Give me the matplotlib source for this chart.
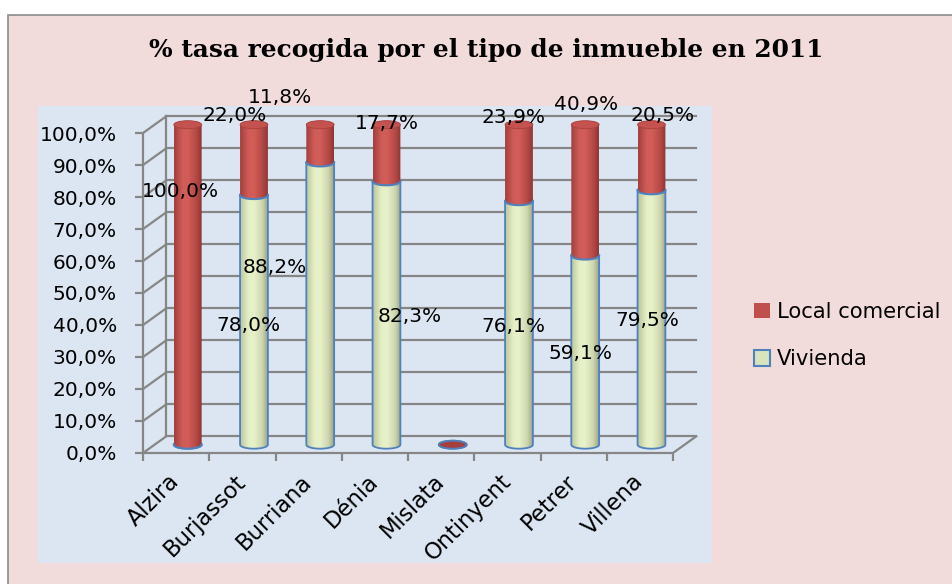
"""
Stacked 3D-style cylinder chart: % tasa recogida por tipo de inmueble (2011).
"""

import numpy as np
import matplotlib
matplotlib.use('Agg')
import matplotlib.pyplot as plt
from matplotlib.patches import Rectangle, PathPatch, Ellipse, Patch
from matplotlib.path import Path
from matplotlib.colors import LinearSegmentedColormap

# ── data ─────────────────────────────────────────────────────────────────────
cities   = ['Alzira', 'Burjassot', 'Burriana', 'Dénia', 'Mislata',
            'Ontinyent', 'Petrer', 'Villena']
vivienda = [0.0, 78.0, 88.2, 82.3, 0.0, 76.1, 59.1, 79.5]
local    = [100.0, 22.0, 11.8, 17.7, 0.0, 23.9, 40.9, 20.5]
y_ticks  = list(range(0, 101, 10))

# data labels were dragged by hand in the original -> anchor (category units, %)
viv_lbl_x = [None, 1.085, 1.49, 3.53, None, 5.085, 6.10, 7.11]
viv_lbl_y = [None, 39.7, 58.1, 42.5, None, 39.4, 31.0, 41.3]
loc_lbl_x = [0.06, 0.89, 1.57, 3.18, None, 5.085, 6.19, 7.35]
loc_lbl_y = [81.6, 105.6, 111.0, 103.0, None, 104.7, 109.0, 105.6]

def pct(v):
    return f"{v:.1f}".replace('.', ',') + '%'

# ── style ────────────────────────────────────────────────────────────────────
PINK  = '#f2dcdb'
BLUEBG = '#dce6f2'
GRID  = '#868686'
RED   = '#c0504d'
EDGE  = '#4f81bd'
GREEN = '#d7e4bd'
FS    = 14.5

DX, DY = 0.35, 5.2          # depth of the 3D box in data units
RX, RY = 0.21, 1.25         # cylinder half width / ellipse half height

red_cm = LinearSegmentedColormap.from_list('red', [
    (0.0, '#a23f3c'), (0.3, '#cf5c58'), (0.5, '#d35d59'),
    (0.8, '#b54946'), (1.0, '#8e3532')])
green_cm = LinearSegmentedColormap.from_list('green', [
    (0.0, '#bcc69e'), (0.3, '#e4efc5'), (0.5, '#e8f2ca'),
    (0.8, '#cdd6ae'), (1.0, '#9da587')])

plt.rcParams['font.family'] = 'DejaVu Sans'

fig = plt.figure(figsize=(9.52, 5.84), dpi=100, facecolor='white')

# chart area + plot area backgrounds
fig.patches.append(Rectangle((8/952, -0.1), 1.2, 1.0743, transform=fig.transFigure,
                             fc=PINK, ec='#8c8c8c', lw=1.2, zorder=-2))
fig.patches.append(Rectangle((38/952, 21/584), 674/952, 457/584,
                             transform=fig.transFigure, fc=BLUEBG, ec='none', zorder=-1))

ax = fig.add_axes([143/952, 131/584, 556.5/952, 339.2/584])
ax.patch.set_visible(False)

# ── back wall / floor ────────────────────────────────────────────────────────
for y in y_ticks:
    ax.plot([-0.5 + DX, 7.5 + DX], [y + DY, y + DY], color=GRID, lw=1.6, zorder=1)
    ax.plot([-0.5, -0.5 + DX], [y, y + DY], color=GRID, lw=1.6, zorder=1)
ax.plot([-0.5 + DX, -0.5 + DX], [DY, 100 + DY], color=GRID, lw=1.6, zorder=1)
ax.plot([7.5, 7.5 + DX], [0, DY], color=GRID, lw=1.6, zorder=1)

# ── cylinders ────────────────────────────────────────────────────────────────
grad = np.linspace(0, 1, 120).reshape(1, -1)

def body_path(xc, y0, y1):
    t1 = np.linspace(np.pi, 2*np.pi, 40)
    t2 = np.linspace(0, np.pi, 40)
    lower = np.column_stack([xc + RX*np.cos(t1), y0 + RY*np.sin(t1)])
    upper = np.column_stack([xc + RX*np.cos(t2), y1 + RY*np.sin(t2)])
    return Path(np.vstack([lower, upper, lower[:1]]), closed=True), lower

def draw_segment(xc, y0, y1, cmap, z):
    path, lower = body_path(xc, y0, y1)
    if y1 > y0:
        im = ax.imshow(grad, cmap=cmap, extent=[xc - RX, xc + RX, y0 - RY, y1 + RY],
                       aspect='auto', interpolation='bilinear', zorder=z)
        clip = PathPatch(path, fc='none', ec='none')
        ax.add_patch(clip)
        im.set_clip_path(clip)
    return path, lower

for i, (v, l) in enumerate(zip(vivienda, local)):
    xc = i + DX/2
    base = DY/2
    vpath, _ = draw_segment(xc, base, base + v, green_cm, 3)
    ax.add_patch(PathPatch(vpath, fc='none', ec=EDGE, lw=1.3, zorder=3.5))
    draw_segment(xc, base + v, base + v + l, red_cm, 4)
    top_edge = EDGE if v + l == 0 else '#a8413e'
    ax.add_patch(Ellipse((xc, base + v + l), 2*RX, 2*RY,
                         fc='#a4403d' if v + l == 0 else '#c4524f',
                         ec=top_edge, lw=1.3 if v + l == 0 else 0.6, zorder=4.5))
    if v + l > 0:
        _, lower = body_path(xc, base + v, base + v)
        ax.plot(lower[:, 0], lower[:, 1], color=EDGE, lw=1.5, zorder=5)

# ── data labels ──────────────────────────────────────────────────────────────
for i in range(len(cities)):
    if viv_lbl_x[i] is not None:
        ax.text(viv_lbl_x[i], viv_lbl_y[i], pct(vivienda[i]), fontsize=FS,
                ha='center', va='center', zorder=6, clip_on=False)
    if loc_lbl_x[i] is not None:
        ax.text(loc_lbl_x[i], loc_lbl_y[i], pct(local[i]), fontsize=FS,
                ha='center', va='center', zorder=6, clip_on=False)

# ── axes ─────────────────────────────────────────────────────────────────────
ax.set_xlim(-0.5, 7.9)
ax.set_ylim(0, 106)
for s in ['top', 'right']:
    ax.spines[s].set_visible(False)
ax.spines['left'].set_bounds(0, 100)
ax.spines['bottom'].set_bounds(-0.5, 7.5)
for s in ['left', 'bottom']:
    ax.spines[s].set_color(GRID)
    ax.spines[s].set_linewidth(1.6)

ax.set_yticks(y_ticks)
ax.set_yticklabels([pct(y) for y in y_ticks])
ax.tick_params(axis='y', length=5.8, width=1.6, color=GRID, pad=13, labelsize=FS)

ax.set_xticks(range(len(cities)))
ax.set_xticklabels(cities)
ax.set_xticks(np.arange(-0.5, len(cities), 1), minor=True)
ax.tick_params(axis='x', which='major', length=0, pad=18, labelsize=16.3)
ax.tick_params(axis='x', which='minor', length=5.8, width=1.6, color=GRID)
plt.setp(ax.get_xticklabels(), rotation=45, ha='right', va='center',
         rotation_mode='anchor')

# ── title + legend ───────────────────────────────────────────────────────────
fig.text(486/952, 1 - 50/584, '% tasa recogida por el tipo de inmueble en 2011',
         family='DejaVu Serif', fontweight='bold', fontsize=17.9,
         ha='center', va='center')

handles = [Patch(fc=RED, ec='none'), Patch(fc=GREEN, ec=EDGE, lw=1.5)]
fig.legend(handles, ['Local comercial', 'Vivienda'], loc='upper left',
           bbox_to_anchor=(754/952, 1 - 302/584), frameon=False, fontsize=15.2,
           handlelength=0.75, handleheight=0.75, handletextpad=0.35,
           labelspacing=1.3, borderpad=0, borderaxespad=0)

fig.savefig('out.png', dpi=100, facecolor='white')
plt.close(fig)
